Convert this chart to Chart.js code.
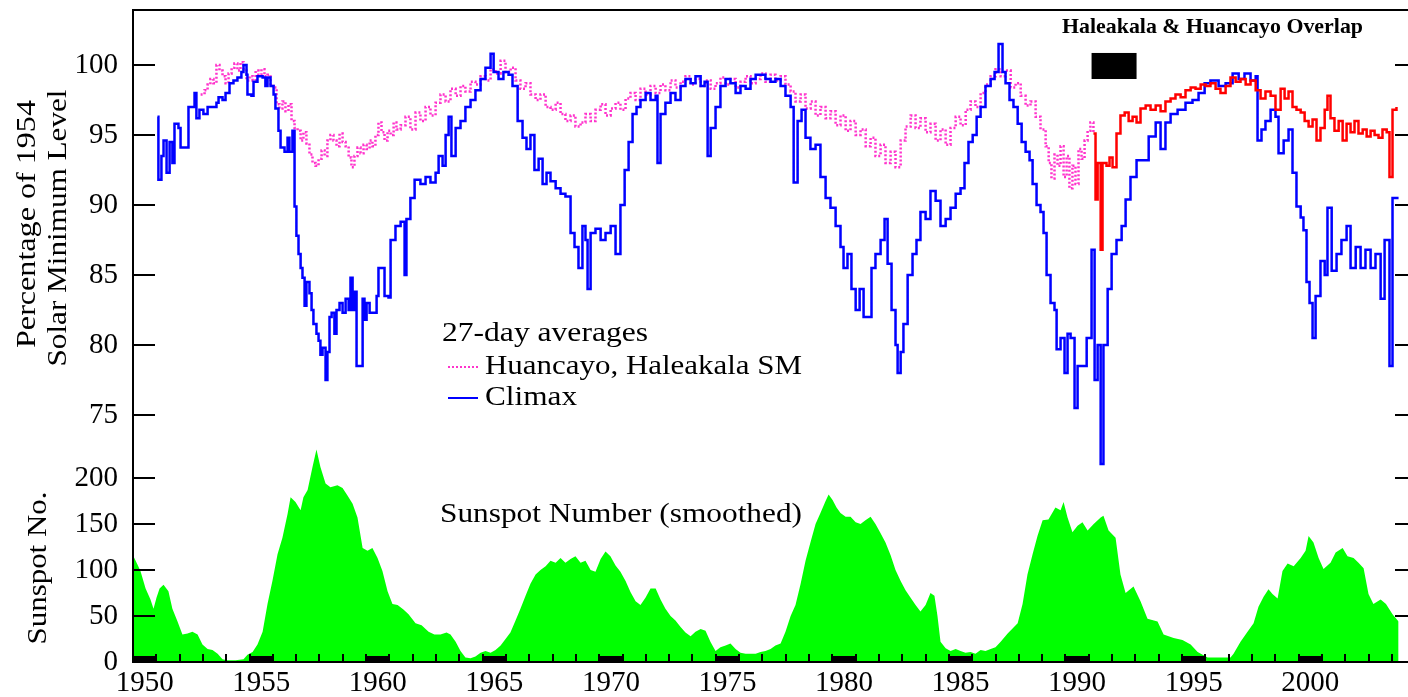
<!DOCTYPE html>
<html><head><meta charset="utf-8">
<script src="https://cdn.jsdelivr.net/npm/chart.js@4.4.1/dist/chart.umd.min.js"></script>
<style>html,body{margin:0;padding:0;background:#fff;overflow:hidden;width:1408px;height:697px}
#wrap{position:relative;width:1420px;height:697px}
canvas{display:block}
#ov{position:absolute;left:0;top:0;pointer-events:none}</style>
</head><body><div id="wrap"><canvas id="c" width="1420" height="697"></canvas><canvas id="ov" width="1420" height="697"></canvas></div>
<script>
// ---------- data ----------
const climaxYears = [1951.05,1951.09,1951.22,1951.31,1951.44,1951.57,1951.69,1951.78,1951.95,1952.04,
1952.34,1952.38,1952.55,1952.64,1952.72,1952.85,1953.02,1953.20,1953.41,1953.58,
1953.67,1953.84,1953.97,1954.14,1954.31,1954.48,1954.65,1954.74,1954.87,1954.91,
1955.08,1955.17,1955.34,1955.56,1955.68,1955.77,1955.90,1956.03,1956.11,1956.24,
1956.33,1956.50,1956.63,1956.71,1956.84,1956.93,1957.01,1957.10,1957.19,1957.27,
1957.36,1957.44,1957.57,1957.66,1957.74,1957.87,1957.96,1958.04,1958.13,1958.26,
1958.34,1958.43,1958.52,1958.64,1958.73,1958.86,1958.99,1959.12,1959.25,1959.33,
1959.42,1959.50,1959.59,1959.76,1959.85,1959.93,1960.02,1960.15,1960.27,1960.45,
1960.53,1960.70,1960.79,1960.96,1961.05,1961.26,1961.48,1961.65,1961.73,1961.90,
1962.08,1962.33,1962.55,1962.76,1962.98,1963.11,1963.28,1963.41,1963.54,1963.66,
1963.84,1964.05,1964.26,1964.48,1964.69,1964.91,1965.12,1965.34,1965.47,1965.68,
1965.89,1966.11,1966.28,1966.50,1966.71,1966.88,1967.05,1967.22,1967.40,1967.57,
1967.74,1967.91,1968.13,1968.34,1968.55,1968.77,1968.94,1969.11,1969.28,1969.41,
1969.50,1969.63,1969.84,1970.06,1970.27,1970.49,1970.70,1970.91,1971.09,1971.26,
1971.43,1971.60,1971.77,1971.99,1972.20,1972.42,1972.50,1972.63,1972.84,1973.06,
1973.27,1973.49,1973.70,1973.92,1974.13,1974.35,1974.52,1974.65,1974.78,1974.99,
1975.20,1975.42,1975.63,1975.85,1976.06,1976.28,1976.49,1976.71,1976.92,1977.13,
1977.35,1977.56,1977.78,1977.99,1978.21,1978.34,1978.51,1978.68,1978.85,1979.06,
1979.28,1979.49,1979.71,1979.92,1980.14,1980.35,1980.48,1980.65,1980.82,1981.00,
1981.17,1981.34,1981.51,1981.68,1981.85,1982.07,1982.24,1982.37,1982.54,1982.71,
1982.80,1982.93,1983.05,1983.23,1983.44,1983.61,1983.78,1984.00,1984.21,1984.43,
1984.64,1984.86,1985.07,1985.29,1985.50,1985.67,1985.84,1986.02,1986.19,1986.36,
1986.57,1986.79,1986.96,1987.13,1987.30,1987.43,1987.60,1987.77,1987.95,1988.12,
1988.29,1988.46,1988.59,1988.76,1988.93,1989.06,1989.19,1989.36,1989.53,1989.62,
1989.79,1989.96,1990.09,1990.22,1990.39,1990.52,1990.73,1990.91,1991.12,1991.25,
1991.38,1991.51,1991.63,1991.81,1991.98,1992.19,1992.41,1992.58,1992.79,1993.05,
1993.31,1993.57,1993.87,1994.08,1994.29,1994.51,1994.81,1995.15,1995.45,1995.71,
1995.97,1996.22,1996.57,1996.87,1997.17,1997.43,1997.68,1997.94,1998.16,1998.24,
1998.41,1998.58,1998.80,1999.01,1999.14,1999.36,1999.57,1999.74,1999.91,2000.09,
2000.21,2000.34,2000.47,2000.60,2000.73,2000.94,2001.12,2001.24,2001.42,2001.63,
2001.84,2002.06,2002.23,2002.45,2002.66,2002.87,2003.09,2003.30,2003.52,2003.69,
2003.90,2004.03,2004.29];
const climaxValues = [96.3,91.8,93.5,94.6,92.3,94.5,93.0,95.8,95.5,94.1,
94.1,97.0,97.0,98.0,96.2,96.8,96.5,97.0,97.0,97.3,
97.7,97.5,98.0,98.7,98.9,99.1,99.5,100.0,99.3,97.9,
97.8,98.8,99.2,99.1,98.5,99.1,98.5,97.9,96.9,95.3,
94.1,93.8,94.8,93.8,95.3,89.9,87.8,86.5,85.5,84.8,
82.8,84.5,83.7,82.5,81.5,80.8,80.3,79.3,79.8,77.5,
79.5,82.0,82.3,80.8,82.5,83.0,82.3,83.3,82.5,84.8,
82.5,83.8,78.5,78.5,83.3,81.8,83.0,82.3,82.3,83.5,
85.5,85.5,83.5,83.4,87.5,88.5,88.8,85.0,89.0,90.5,
91.8,91.5,92.0,91.6,92.3,93.5,92.8,95.0,96.3,93.5,
95.5,96.0,97.0,97.5,98.2,99.0,99.8,100.8,99.5,99.0,
99.5,99.3,98.5,96.0,94.8,94.0,95.0,92.5,93.3,91.5,
92.3,91.7,91.2,90.8,90.6,88.0,87.0,85.5,88.5,87.5,
84.0,88.0,88.3,87.5,88.0,88.5,86.5,90.0,92.5,94.5,
96.5,97.0,97.5,98.0,97.5,97.8,93.0,96.5,97.3,98.0,
97.5,98.5,99.0,98.7,99.2,98.5,98.8,93.5,95.5,97.0,
98.5,99.0,98.7,98.0,98.5,98.3,99.0,99.3,99.3,99.0,
98.8,99.0,98.5,97.8,97.0,91.6,96.0,96.8,94.8,94.0,
94.3,92.0,90.5,89.8,88.5,87.0,85.5,86.5,84.0,82.5,
84.0,82.0,82.0,85.5,86.5,87.5,89.0,85.8,82.5,80.0,
78.0,79.5,81.5,85.0,86.5,87.5,89.5,89.0,91.0,90.3,
88.5,89.0,89.8,90.8,91.2,93.0,94.5,95.0,96.3,97.0,
98.5,99.0,99.5,101.5,99.5,98.7,97.5,97.0,95.8,94.5,
93.8,93.2,91.5,90.0,89.5,88.0,85.0,83.0,82.5,79.7,
80.5,78.0,80.8,80.5,75.5,78.5,78.5,80.5,86.8,77.5,
80.0,71.5,80.0,84.0,86.5,87.5,88.5,90.4,92.0,93.2,
93.2,94.9,95.9,94.0,95.9,96.5,96.8,97.3,97.5,98.0,
98.7,98.9,98.5,98.7,99.4,99.0,99.4,98.9,99.2,94.6,
95.4,96.0,96.8,96.3,93.7,94.6,95.4,92.3,89.9,89.1,
88.2,84.5,83.0,80.5,83.5,86.0,85.0,89.8,85.3,86.5,
87.5,88.5,85.5,87.0,85.5,86.8,85.5,86.5,83.3,87.5,
78.5,90.5,90.5];

const huancayoYears = [1952.90,1953.07,1953.20,1953.32,1953.45,1953.58,1953.71,1953.84,1953.97,1954.10,
1954.23,1954.35,1954.48,1954.61,1954.74,1954.87,1955.00,1955.13,1955.26,1955.38,
1955.51,1955.64,1955.77,1955.90,1956.03,1956.16,1956.28,1956.41,1956.54,1956.67,
1956.80,1956.93,1957.06,1957.19,1957.31,1957.44,1957.57,1957.70,1957.83,1957.96,
1958.09,1958.22,1958.34,1958.47,1958.60,1958.73,1958.86,1958.99,1959.12,1959.25,
1959.37,1959.50,1959.63,1959.76,1959.89,1960.02,1960.15,1960.27,1960.40,1960.53,
1960.66,1960.79,1960.92,1961.05,1961.18,1961.30,1961.48,1961.69,1961.90,1962.12,
1962.33,1962.55,1962.76,1962.98,1963.19,1963.41,1963.62,1963.84,1964.05,1964.26,
1964.48,1964.69,1964.91,1965.12,1965.34,1965.55,1965.77,1965.98,1966.20,1966.41,
1966.62,1966.84,1967.05,1967.27,1967.48,1967.70,1967.91,1968.13,1968.34,1968.55,
1968.77,1968.98,1969.20,1969.41,1969.63,1969.84,1970.06,1970.27,1970.49,1970.70,
1970.91,1971.13,1971.34,1971.56,1971.77,1971.99,1972.20,1972.42,1972.63,1972.84,
1973.06,1973.27,1973.49,1973.70,1973.92,1974.13,1974.35,1974.56,1974.78,1974.99,
1975.20,1975.42,1975.63,1975.85,1976.06,1976.28,1976.49,1976.71,1976.92,1977.13,
1977.35,1977.56,1977.78,1977.99,1978.21,1978.42,1978.64,1978.85,1979.07,1979.28,
1979.49,1979.71,1979.92,1980.14,1980.35,1980.57,1980.78,1981.00,1981.21,1981.43,
1981.64,1981.85,1982.07,1982.28,1982.50,1982.71,1982.93,1983.14,1983.36,1983.57,
1983.78,1984.00,1984.21,1984.43,1984.64,1984.86,1985.07,1985.29,1985.50,1985.72,
1985.93,1986.14,1986.36,1986.57,1986.79,1987.00,1987.22,1987.43,1987.65,1987.86,
1988.08,1988.29,1988.50,1988.72,1988.93,1989.15,1989.28,1989.40,1989.53,1989.66,
1989.79,1989.92,1990.05,1990.17,1990.30,1990.43,1990.56,1990.69,1990.82,1990.95,
1991.07,1991.20];
const huancayoValues = [97.9,98.2,98.6,99.0,98.7,100.0,99.6,99.2,98.7,99.4,
99.8,100.1,99.6,100.2,99.7,98.9,99.2,98.9,99.6,99.3,
99.7,99.2,99.3,98.5,98.4,97.2,96.9,97.4,96.7,97.2,
96.0,95.5,95.3,94.6,95.2,94.4,93.6,93.0,92.8,93.3,
93.9,93.5,94.6,95.0,94.6,94.2,95.1,94.5,94.2,93.4,
92.7,93.5,94.1,93.7,94.3,94.0,94.6,94.2,95.0,95.9,
95.2,94.6,95.3,95.0,95.9,95.4,95.7,96.3,95.4,96.6,
96.0,97.0,96.4,97.3,97.9,97.4,98.3,97.8,98.5,98.1,
98.8,98.6,99.2,98.9,99.7,99.4,100.3,99.5,99.8,98.9,
98.3,98.7,97.9,97.5,97.9,97.0,96.8,97.3,96.5,96.0,
96.4,95.6,95.9,96.5,96.0,96.8,97.2,96.4,96.9,97.3,
96.8,97.6,98.0,97.5,98.3,97.9,98.5,98.0,98.6,98.2,
98.9,98.4,98.8,99.2,98.6,99.0,98.5,98.9,98.3,98.7,
99.1,98.6,99.0,98.4,98.8,99.2,98.7,99.0,99.4,98.8,
99.3,98.9,99.2,98.6,98.1,97.4,97.9,96.9,97.4,96.4,
97.0,96.2,96.7,95.7,96.4,95.3,96.0,95.0,95.4,94.2,
94.8,93.5,94.3,93.0,93.8,92.7,94.6,95.6,96.4,95.5,
96.2,95.2,95.8,94.6,95.4,94.3,95.5,96.3,95.7,96.8,
97.4,97.0,98.0,98.6,99.2,99.7,99.2,99.6,98.4,98.7,
97.8,97.1,97.4,96.3,95.4,94.2,93.0,91.9,93.6,92.8,
94.2,92.0,93.5,91.2,92.8,91.5,94.0,93.3,94.6,95.3,
95.9,95.2];

const haleakalaYears = [1991.20,1991.29,1991.38,1991.51,1991.59,1991.76,1991.89,1992.02,1992.19,1992.36,
1992.54,1992.71,1992.88,1993.05,1993.22,1993.44,1993.65,1993.87,1994.08,1994.29,
1994.51,1994.72,1994.94,1995.15,1995.37,1995.58,1995.80,1996.01,1996.22,1996.44,
1996.65,1996.87,1997.08,1997.30,1997.51,1997.73,1997.94,1998.16,1998.37,1998.58,
1998.80,1999.01,1999.23,1999.40,1999.57,1999.74,1999.91,2000.09,2000.26,2000.43,
2000.60,2000.77,2000.94,2001.12,2001.24,2001.37,2001.54,2001.72,2001.89,2002.06,
2002.23,2002.40,2002.57,2002.75,2002.92,2003.09,2003.26,2003.43,2003.60,2003.78,
2003.90,2004.03,2004.20];
const haleakalaValues = [95.1,90.4,93.0,86.8,93.0,92.8,93.4,92.7,95.1,96.4,
96.6,96.0,96.3,95.9,96.9,97.1,96.8,97.1,96.7,97.4,
97.6,97.9,97.7,98.2,98.4,98.3,98.6,98.5,98.7,98.3,
98.0,98.5,99.1,98.8,99.0,98.6,98.9,98.2,97.6,98.1,
97.8,96.8,98.3,97.6,98.1,97.0,96.8,96.6,96.0,95.6,
96.1,94.6,95.5,96.8,97.8,96.2,95.3,96.0,94.6,95.8,
95.2,96.0,95.1,95.4,94.9,95.3,95.0,94.8,95.4,95.2,
92.0,96.8,97.0];

const sunspotYears = [1950.02,1950.19,1950.32,1950.54,1950.75,1950.88,1951.01,1951.14,1951.31,1951.52,
1951.69,1951.91,1952.12,1952.34,1952.55,1952.77,1952.98,1953.20,1953.41,1953.63,
1953.84,1954.05,1954.40,1954.74,1954.91,1955.13,1955.34,1955.56,1955.77,1955.98,
1956.20,1956.41,1956.63,1956.76,1956.97,1957.19,1957.31,1957.49,1957.70,1957.87,
1958.04,1958.26,1958.47,1958.77,1958.99,1959.20,1959.42,1959.63,1959.85,1960.06,
1960.27,1960.49,1960.70,1960.92,1961.13,1961.35,1961.60,1961.82,1962.12,1962.38,
1962.68,1962.93,1963.19,1963.45,1963.62,1963.84,1964.05,1964.26,1964.48,1964.69,
1964.91,1965.12,1965.34,1965.55,1965.77,1965.98,1966.19,1966.41,1966.62,1966.84,
1967.05,1967.27,1967.48,1967.70,1967.91,1968.13,1968.34,1968.55,1968.77,1968.98,
1969.20,1969.41,1969.63,1969.84,1970.06,1970.27,1970.48,1970.70,1970.91,1971.13,
1971.34,1971.56,1971.77,1971.99,1972.20,1972.42,1972.63,1972.84,1973.06,1973.27,
1973.49,1973.70,1973.92,1974.13,1974.35,1974.56,1974.77,1974.99,1975.20,1975.42,
1975.63,1975.85,1976.06,1976.28,1976.49,1976.71,1976.92,1977.13,1977.35,1977.56,
1977.78,1977.99,1978.21,1978.42,1978.64,1978.85,1979.06,1979.28,1979.49,1979.71,
1979.84,1980.01,1980.18,1980.35,1980.57,1980.78,1981.00,1981.21,1981.42,1981.64,
1981.85,1982.07,1982.28,1982.50,1982.71,1982.93,1983.14,1983.35,1983.57,1983.78,
1984.00,1984.21,1984.38,1984.51,1984.64,1984.86,1985.07,1985.29,1985.50,1985.71,
1985.93,1986.14,1986.36,1986.57,1986.79,1987.00,1987.22,1987.52,1987.95,1988.16,
1988.37,1988.59,1988.80,1989.02,1989.27,1989.57,1989.79,1989.92,1990.09,1990.30,
1990.52,1990.73,1990.95,1991.21,1991.51,1991.63,1991.85,1992.15,1992.36,1992.58,
1992.92,1993.22,1993.52,1993.95,1994.21,1994.64,1995.02,1995.37,1995.67,1996.10,
1997.08,1997.21,1997.51,1997.81,1998.07,1998.28,1998.50,1998.71,1998.88,1999.10,
1999.31,1999.53,1999.79,2000.09,2000.30,2000.43,2000.64,2000.86,2001.07,2001.37,
2001.59,2001.89,2002.10,2002.36,2002.57,2002.79,2003.00,2003.21,2003.52,2003.75,
2004.03,2004.29];
const sunspotValues = [115,106,99,80,68,58,70,80,84,77,
58,44,30,31,33,30,19,14,13,9,
3,2,2,3,8,11,19,33,63,88,
117,135,161,179,174,165,179,187,212,231,
212,194,190,192,189,181,172,157,124,121,
124,113,99,77,63,62,57,52,42,40,
33,30,30,32,30,22,12,5,4,6,
10,12,10,13,18,25,32,45,58,72,
85,95,100,104,110,108,113,108,112,115,
108,110,100,98,112,120,115,105,98,88,
76,66,62,70,80,80,68,58,50,45,
38,32,28,33,36,34,22,12,16,18,
20,14,10,9,9,9,11,12,14,18,
20,33,50,62,85,110,130,150,162,175,
182,176,168,162,158,158,152,150,154,158,
150,140,130,116,100,88,78,70,62,55,
62,75,72,50,22,15,12,14,12,10,
11,9,13,12,14,16,22,31,42,63,
95,117,137,154,155,168,165,174,157,141,
148,152,143,150,157,159,143,135,95,75,
82,66,47,44,30,26,24,19,11,5,
5,9,22,33,42,60,71,79,74,69,
99,107,104,113,121,137,130,113,101,108,
119,124,115,113,108,102,74,63,68,63,
52,44];

const xTickYears = [1950,1951,1952,1953,1954,1955,1956,1957,1958,1959,1960,1961,1962,1963,1964,1965,1966,1967,1968,1969,
1970,1971,1972,1973,1974,1975,1976,1977,1978,1979,1980,1981,1982,1983,1984,1985,1986,1987,1988,1989,
1990,1991,1992,1993,1994,1995,1996,1997,1998,1999,2000,2001,2002,2003,2004];
const xLabelYears = [1950,1955,1960,1965,1970,1975,1980,1985,1990,1995,2000];
const pctTicks = [75,80,85,90,95,100];
const sunTicks = [0,50,100,150,200];
const overlapYears = [1991.12, 1993.05];
const overlapPct = [100.86, 99.0];

// ---------- chart ----------
const SERIF = '"Liberation Serif", "Times New Roman", serif';
Chart.defaults.font.family = SERIF;
Chart.defaults.color = '#000';

const X_MIN = 1950, X_MAX = 2004.78;
const PCT_MIN = 73.214, PCT_MAX = 103.929, SUN_MIN = 0, SUN_MAX = 241.3;
const BAR_LEVEL = 3.3;       // sunspot level of the centre of the 5-year axis bars

const pts = (xs, ys) => xs.map((x, i) => ({x, y: ys[i]}));
const barPts = [];
xLabelYears.forEach(s => { barPts.push({x: s, y: BAR_LEVEL}, {x: s + 1, y: BAR_LEVEL}, {x: s + 1, y: null}); });

const tickFont = {family: SERIF, size: 29};

function yAxis(pos, stack, weight, stackWeight, min, max, ticks, showLabels, width, tl) {
  return {
    type: 'linear', position: pos, stack, weight, stackWeight, min, max,
    afterBuildTicks: s => { s.ticks = ticks.map(v => ({value: v})); },
    afterFit: s => { s.width = width; s.paddingTop = 0; s.paddingBottom = 0; },
    grid: {drawOnChartArea: false, drawTicks: true, tickLength: tl, color: '#000', lineWidth: 2, z: 1},
    border: {display: true, color: '#000', width: 2, z: 1},
    ticks: {display: showLabels, autoSkip: false, padding: 37, font: tickFont, color: '#000'}
  };
}

function fitText(c, txt, x, y, w, font, rot) {
  c.save();
  c.font = font; c.textBaseline = 'middle'; c.textAlign = 'left'; c.fillStyle = '#000';
  const m = c.measureText(txt).width;
  c.translate(x, y);
  if (rot) c.rotate(-Math.PI / 2);
  c.scale(w / m, 1);
  c.fillText(txt, rot ? -m / 2 : 0, 0);
  c.restore();
}

const annotate = {
  id: 'annotate',
  afterDraw(chart) {
    const c = chart.ctx;
    const xs = chart.scales.x, ys = chart.scales.y;
    c.save();
    fitText(c, 'Percentage of 1954', 28, 224, 248, '28px ' + SERIF, true);
    fitText(c, 'Solar Minimum Level', 59, 228, 277, '28px ' + SERIF, true);
    fitText(c, 'Sunspot No.', 39, 568, 153, '28px ' + SERIF, true);
    fitText(c, '27-day averages', 442, 334, 206, '28px ' + SERIF);
    c.lineWidth = 2;
    c.strokeStyle = '#ff33cc'; c.setLineDash([2, 2]);
    c.beginPath(); c.moveTo(448, 367); c.lineTo(478, 367); c.stroke();
    c.setLineDash([]);
    c.strokeStyle = '#0000ff';
    c.beginPath(); c.moveTo(448, 398); c.lineTo(478, 398); c.stroke();
    fitText(c, 'Huancayo, Haleakala SM', 485, 367, 317, '28px ' + SERIF);
    fitText(c, 'Climax', 485, 398, 92, '28px ' + SERIF);
    fitText(c, 'Sunspot Number (smoothed)', 440, 515, 362, '28px ' + SERIF);
    fitText(c, 'Haleakala & Huancayo Overlap', 1062, 28, 301, 'bold 21px ' + SERIF);
    const x0 = xs.getPixelForValue(overlapYears[0]), x1 = xs.getPixelForValue(overlapYears[1]);
    const y0 = ys.getPixelForValue(overlapPct[0]), y1 = ys.getPixelForValue(overlapPct[1]);
    c.fillStyle = '#000';
    c.fillRect(x0, y0, x1 - x0, y1 - y0);
    c.restore();
  }
};

const chart = new Chart(document.getElementById('c'), {
  type: 'line',
  data: {
    datasets: [
      {label: 'bars', data: barPts, yAxisID: 'y2', borderColor: '#000', borderWidth: 6, pointRadius: 0, spanGaps: false, order: 0, clip: false},
      {label: 'Haleakala SM', data: pts(haleakalaYears, haleakalaValues), yAxisID: 'y', borderColor: '#ff0000', borderWidth: 2.5, pointRadius: 0, stepped: true, order: 1, clip: false},
      {label: 'Climax', data: pts(climaxYears, climaxValues), yAxisID: 'y', borderColor: '#0000ff', borderWidth: 2.5, pointRadius: 0, stepped: true, order: 2, clip: false},
      {label: 'Huancayo, Haleakala SM', data: pts(huancayoYears, huancayoValues), yAxisID: 'y', borderColor: '#ff33cc', borderWidth: 2.5, borderDash: [2, 2], pointRadius: 0, stepped: true, order: 3, clip: false},
      {label: 'Sunspot Number (smoothed)', data: pts(sunspotYears, sunspotValues), yAxisID: 'y2', borderColor: '#00ff00', backgroundColor: '#00ff00', borderWidth: 0, pointRadius: 0, fill: 'origin', order: 4, clip: false}
    ]
  },
  options: {
    responsive: false, animation: false, devicePixelRatio: 1,
    layout: {padding: 0},
    plugins: {legend: {display: false}, tooltip: {enabled: false}},
    elements: {line: {tension: 0}},
    scales: {
      x: {
        type: 'linear', position: 'bottom', min: X_MIN, max: X_MAX,
        afterBuildTicks: s => { s.ticks = xTickYears.map(v => ({value: v})); },
        afterFit: s => { s.height = 35; s.paddingLeft = 0; s.paddingRight = 0; },
        grid: {drawOnChartArea: false, drawTicks: true, tickLength: -8, color: '#000', lineWidth: 2, z: 1},
        border: {display: true, color: '#000', width: 2, z: 1},
        ticks: {autoSkip: false, maxRotation: 0, minRotation: 0, labelOffset: 11.65, padding: 12, font: tickFont, color: '#000',
          callback: v => (xLabelYears.includes(v) ? String(v) : '')}
      },
      xTop: {
        type: 'linear', position: 'top', min: X_MIN, max: X_MAX,
        afterFit: s => { s.height = 10; s.paddingLeft = 0; s.paddingRight = 0; },
        grid: {display: false}, ticks: {display: false},
        border: {display: true, color: '#000', width: 2}
      },
      y: yAxis('left', 'L', 2, 430, PCT_MIN, PCT_MAX, pctTicks, true, 133, -22),
      y2: yAxis('left', 'L', 1, 222, SUN_MIN, SUN_MAX, sunTicks, true, 133, -22),
      yR: yAxis('right', 'R', 1, 430, PCT_MIN, PCT_MAX, pctTicks, false, 10, -15),
      y2R: yAxis('right', 'R', 2, 222, SUN_MIN, SUN_MAX, sunTicks, false, 10, -15)
    }
  },
  plugins: [annotate]
});

// inward tick marks on the left and bottom axes, on an overlay, positioned through the chart's scales
(function drawTickOverlay() {
  const o = document.getElementById('ov').getContext('2d');
  o.fillStyle = '#000';
  ['y', 'y2'].forEach(id => {
    const s = chart.scales[id];
    s.ticks.forEach(t => {
      const py = Math.round(s.getPixelForValue(t.value));
      o.fillRect(s.right - 1, py - 1, 23, 2);
    });
  });
  const xs = chart.scales.x;
  xs.ticks.forEach(t => {
    const px = Math.round(xs.getPixelForValue(t.value));
    o.fillRect(px - 1, xs.top - 8, 2, 9);
  });
})();
</script></body></html>
